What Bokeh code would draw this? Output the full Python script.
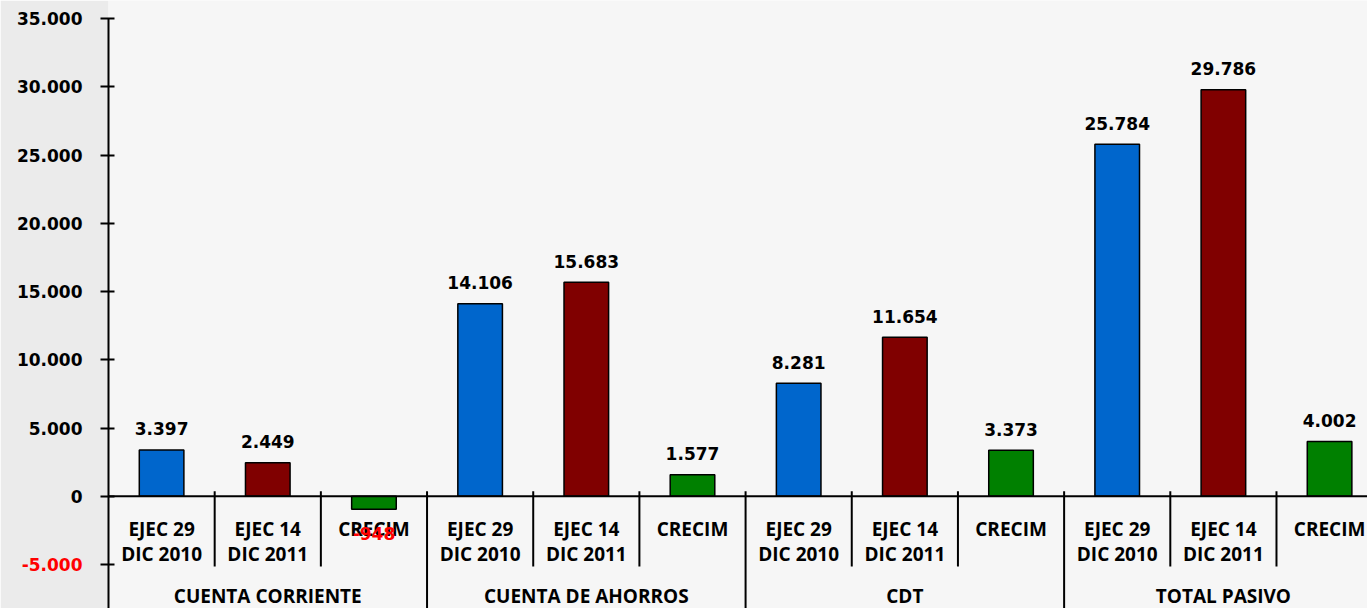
from bokeh.plotting import figure
from bokeh.models import Range1d, FixedTicker, Span, ColumnDataSource
from bokeh.core.properties import value
from bokeh.embed import file_html
from bokeh.resources import INLINE

# ---- data ----
groups = ["CUENTA CORRIENTE", "CUENTA DE AHORROS", "CDT", "TOTAL PASIVO"]
sub_top = ["EJEC 29", "EJEC 14", "CRECIM"]
sub_bottom = ["DIC 2010", "DIC 2011", ""]
ejec_2010 = [3397, 14106, 8281, 25784]
ejec_2011 = [2449, 15683, 11654, 29786]
crecim = [-948, 1577, 3373, 4002]
y_ticks = [-5000, 0, 5000, 10000, 15000, 20000, 25000, 30000, 35000]
series_colors = ["#0066CC", "#800000", "#008000"]


def fmt(v):
    return f"{v:,}".replace(",", ".")


# ---- build table ----
xs, tops, cols, lab, lab_col, lab_off = [], [], [], [], [], []
series = [ejec_2010, ejec_2011, crecim]
for g in range(len(groups)):
    for s in range(3):
        v = series[s][g]
        xs.append(g * 3 + s + 0.5)
        tops.append(v)
        cols.append(series_colors[s])
        lab.append(fmt(v))
        lab_col.append("#000000" if v >= 0 else "#FF0000")
        lab_off.append(-21 if v >= 0 else 24)
src = ColumnDataSource(dict(x=xs, top=tops, color=cols, lab=lab, lab_col=lab_col, off=lab_off))

# ---- scale helpers (pixel geometry of the reference) ----
units_per_px = 40000 / 546.0
px_per_slot = 106.18
y_start = -5000 - 44 * units_per_px
y_end = 35000 + 18 * units_per_px
n_slots = len(groups) * 3
x_end = (1367 - 108) / px_per_slot

p = figure(width=1367, height=608, output_backend="svg", toolbar_location=None,
           x_range=Range1d(0, x_end), y_range=Range1d(y_start, y_end),
           min_border_left=108, min_border_right=0, min_border_top=0, min_border_bottom=0)
p.background_fill_color = "#f6f6f6"
p.border_fill_color = "#ebebeb"
p.outline_line_color = None
p.grid.visible = False
p.xaxis.visible = False

ya = p.yaxis[0]
ya.ticker = FixedTicker(ticks=y_ticks)
ya.major_label_overrides = {t: (fmt(t) if t >= 0 else "") for t in y_ticks}
ya.major_label_text_font = "DejaVu Sans"
ya.major_label_text_font_style = "bold"
ya.major_label_text_font_size = "17px"
ya.major_label_text_color = "#000000"
ya.major_label_standoff = 18
ya.axis_line_width = 2
ya.axis_line_color = "#000000"
ya.major_tick_line_width = 2
ya.major_tick_line_color = "#000000"
ya.major_tick_in = 6
ya.major_tick_out = 8
ya.minor_tick_line_color = None
ya.bounds = (y_start, 35000)

# red negative tick label (drawn unclipped at overlay level, left of the axis)
neg_ticks = [t for t in y_ticks if t < 0]
p.text(x=[-26 / px_per_slot] * len(neg_ticks), y=neg_ticks, text=[fmt(t) for t in neg_ticks],
       text_color="#FF0000", text_font=value("DejaVu Sans"), text_font_style="bold",
       text_font_size="17px", text_align="right", text_baseline="middle", level="overlay")

# zero line
p.add_layout(Span(location=0, dimension="width", line_color="#000000", line_width=2))

# bars
p.vbar(x="x", top="top", bottom=0, width=0.42, fill_color="color", line_color="#000000",
       line_width=1.5, source=src)

# category separators
sep_x0, sep_y0, sep_x1, sep_y1 = [], [], [], []
for b in range(1, n_slots):
    sep_x0.append(b)
    sep_x1.append(b)
    sep_y0.append(5 * units_per_px)
    sep_y1.append(y_start if b % 3 == 0 else -5000 - 2 * units_per_px)
p.segment(x0=sep_x0, y0=sep_y0, x1=sep_x1, y1=sep_y1, line_color="#000000", line_width=2)

# category labels
cx = [g * 3 + s + 0.5 for g in range(len(groups)) for s in range(3)]
top_txt = [sub_top[s] for g in range(len(groups)) for s in range(3)]
bot_txt = [sub_bottom[s] for g in range(len(groups)) for s in range(3)]
cat_font = dict(text_font=value("Open Sans"), text_font_style="bold", text_font_size="19px",
                text_align="center", text_baseline="alphabetic", text_color="#000000")
p.text(x=cx, y=[0] * len(cx), text=top_txt, y_offset=33, **cat_font)
p.text(x=cx, y=[0] * len(cx), text=bot_txt, y_offset=58, **cat_font)
p.text(x=[g * 3 + 1.5 for g in range(len(groups))], y=[0] * len(groups), text=groups,
       y_offset=100, **cat_font)

# value labels
p.text(x="x", y="top", text="lab", text_color="lab_col", y_offset="off",
       text_font=value("DejaVu Sans"), text_font_style="bold", text_font_size="17px",
       text_align="center", text_baseline="alphabetic", source=src)

open("out.html", "w").write(file_html(p, INLINE))
